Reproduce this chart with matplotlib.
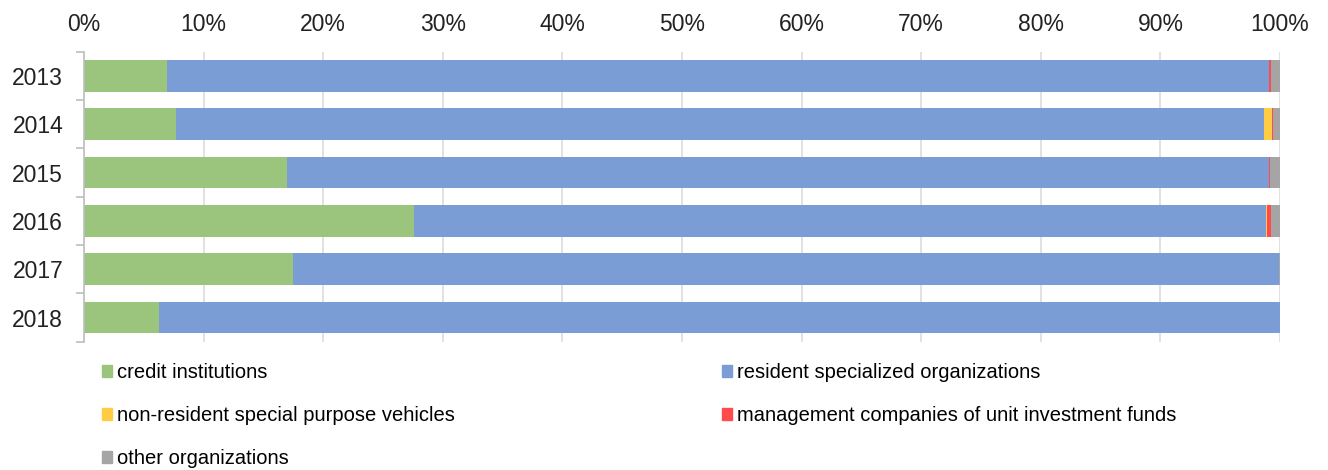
import matplotlib.pyplot as plt
import matplotlib.patches as mpatches
import numpy as np

plt.rcParams['font.family'] = ['Liberation Sans', 'DejaVu Sans']

years = ["2013", "2014", "2015", "2016", "2017", "2018"]

# shares in percent, per year
credit_inst = [6.9, 7.7, 17.0, 27.6, 17.5, 6.3]
resident_spec = [92.2, 90.95, 82.05, 71.2, 82.45, 93.7]
nonresident_spv = [0.0, 0.65, 0.0, 0.1, 0.0, 0.0]
mgmt_companies = [0.15, 0.1, 0.1, 0.35, 0.0, 0.0]
other_orgs = [0.75, 0.6, 0.85, 0.75, 0.05, 0.0]

series = [
    ("credit institutions", credit_inst, "#9BC47D"),
    ("resident specialized organizations", resident_spec, "#7B9DD5"),
    ("non-resident special purpose vehicles", nonresident_spv, "#FFCC44"),
    ("management companies of unit investment funds", mgmt_companies, "#FF4B4B"),
    ("other organizations", other_orgs, "#A5A5A5"),
]

fig = plt.figure(figsize=(13.28, 4.70), dpi=100)
ax = fig.add_axes([0.0633, 0.273, 0.9006, 0.617])

y = np.arange(len(years))
left = np.zeros(len(years))
for label, vals, color in series:
    vals = np.array(vals)
    ax.barh(y, vals, left=left, height=0.66, color=color, label=label, zorder=2)
    left += vals

ax.set_xlim(0, 100)
ax.set_ylim(len(years) - 0.5, -0.5)

# percent ticks on top, light vertical grid over the bars
ax.set_xticks(np.arange(0, 101, 10))
ax.set_xticklabels([f"{v}%" for v in range(0, 101, 10)])
ax.xaxis.tick_top()
ax.tick_params(axis="x", length=0, pad=11, labelsize=16.5, colors="#222222")
ax.grid(axis="x", color="black", alpha=0.13, linewidth=1.3, zorder=3)

ax.set_yticks(y)
ax.set_yticklabels(years)
ax.tick_params(axis="y", which="major", length=0, pad=15, labelsize=16.5, colors="#222222")
ax.set_yticks(np.arange(-0.5, len(years)), minor=True)
ax.tick_params(axis="y", which="minor", length=6, color="#BFBFBF", width=1.2)

for side in ["top", "right", "bottom"]:
    ax.spines[side].set_visible(False)
ax.spines["left"].set_color("#BFBFBF")
ax.spines["left"].set_linewidth(1.2)

handles = {label: mpatches.Patch(color=color) for label, _, color in series}
leg_kw = dict(frameon=False, handlelength=0.5, handleheight=0.5,
              handletextpad=0.25, labelspacing=1.2, borderaxespad=0, borderpad=0,
              loc="upper left", prop={"size": 14.5})

left_col = ["credit institutions", "non-resident special purpose vehicles", "other organizations"]
right_col = ["resident specialized organizations", "management companies of unit investment funds"]

fig.legend([handles[l] for l in left_col], left_col,
           bbox_to_anchor=(102 / 1328, 1 - 363 / 470), **leg_kw)
fig.legend([handles[l] for l in right_col], right_col,
           bbox_to_anchor=(722 / 1328, 1 - 363 / 470), **leg_kw)

fig.savefig("out.png", dpi=100)
